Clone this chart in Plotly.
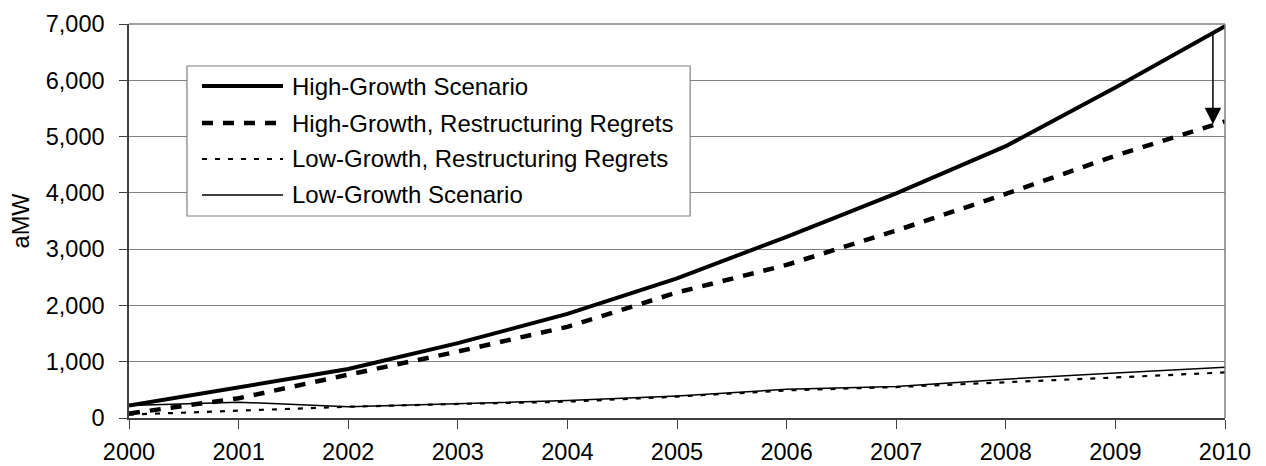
import plotly.graph_objects as go

years = [2000, 2001, 2002, 2003, 2004, 2005, 2006, 2007, 2008, 2009, 2010]
high_growth = [220, 550, 870, 1330, 1850, 2480, 3220, 3990, 4830, 5870, 6960]
high_growth_regrets = [80, 350, 770, 1180, 1620, 2230, 2720, 3330, 3980, 4660, 5270]
low_growth_regrets = [60, 130, 200, 250, 290, 380, 490, 550, 630, 720, 810]
low_growth = [220, 280, 200, 250, 310, 390, 510, 560, 690, 800, 900]

series_names = [
    "High-Growth Scenario",
    "High-Growth, Restructuring Regrets",
    "Low-Growth, Restructuring Regrets",
    "Low-Growth Scenario",
]
y_ticks = [0, 1000, 2000, 3000, 4000, 5000, 6000, 7000]
x_ticks = years

# arrow showing the regret gap in 2010 (x, y_start, y_end)
arrow_x = 2009.89
arrow_from = 6850
arrow_to = 5220

FONT = "Liberation Sans, Arial, sans-serif"
TICK_SIZE = 23.5
LEGEND_SIZE = 24

styles = [
    dict(color="black", width=4, dash="solid"),
    dict(color="black", width=4.5, dash="11px,10px"),
    dict(color="black", width=2.2, dash="5px,8px"),
    dict(color="black", width=1.5, dash="solid"),
]
data = [high_growth, high_growth_regrets, low_growth_regrets, low_growth]

fig = go.Figure()
for name, vals, st in zip(series_names, data, styles):
    fig.add_trace(go.Scatter(x=years, y=vals, mode="lines", name=name,
                             line=st, showlegend=False))

fig.add_annotation(x=arrow_x, y=arrow_to, ax=arrow_x, ay=arrow_from,
                   xref="x", yref="y", axref="x", ayref="y",
                   showarrow=True, arrowhead=2, arrowsize=2.2, arrowwidth=1.5,
                   arrowcolor="black", text="", standoff=0)

# manual legend
shapes = []
shapes.append(dict(type="rect", xref="paper", yref="paper",
                   x0=0.0529, x1=0.512, y0=0.5127, y1=0.8934,
                   line=dict(color="#808080", width=1.2), fillcolor="white",
                   layer="above"))
row_y = [0.8426, 0.7487, 0.6574, 0.5660]
for st, yy, name in zip(styles, row_y, series_names):
    shapes.append(dict(type="line", xref="paper", yref="paper",
                       x0=0.0666, x1=0.1405, y0=yy, y1=yy,
                       line=dict(color="black", width=st["width"], dash=st["dash"]),
                       layer="above"))
    fig.add_annotation(x=0.1470, y=yy, xref="paper", yref="paper",
                       text=name, showarrow=False, xanchor="left", yanchor="middle",
                       font=dict(family=FONT, size=LEGEND_SIZE, color="black"))

# top and right border in gray
shapes.append(dict(type="line", xref="paper", yref="paper", x0=0, x1=1, y0=1, y1=1,
                   line=dict(color="#808080", width=1.5)))
shapes.append(dict(type="line", xref="paper", yref="paper", x0=1, x1=1, y0=0, y1=1,
                   line=dict(color="#808080", width=1.5)))

# the page body has an 8px margin, so the figure is offset to compensate
fig.update_layout(
    width=1258, height=458,
    margin=dict(l=121, r=41, t=16, b=48),
    paper_bgcolor="white", plot_bgcolor="white",
    shapes=shapes,
    font=dict(family=FONT, size=TICK_SIZE, color="black"),
)
fig.update_xaxes(range=[2000, 2010], tickvals=x_ticks, ticktext=[str(v) for v in x_ticks],
                 automargin=False,
                 showgrid=False, zeroline=False, showline=True, linecolor="#404040",
                 linewidth=1.5, ticks="outside", ticklen=9, tickcolor="#404040",
                 tickfont=dict(family=FONT, size=TICK_SIZE), ticklabelstandoff=3)
fig.update_yaxes(range=[0, 7000], tickvals=y_ticks,
                 ticktext=[f"{v:,}" for v in y_ticks],
                 automargin=False,
                 showgrid=True, gridcolor="#808080", gridwidth=1, zeroline=False,
                 showline=True, linecolor="#404040", linewidth=1.5,
                 ticks="outside", ticklen=8, tickcolor="#404040",
                 tickfont=dict(family=FONT, size=TICK_SIZE), ticklabelstandoff=10,
                 title=dict(text="aMW", font=dict(family=FONT, size=TICK_SIZE), standoff=14))

fig.write_html("out.html")
